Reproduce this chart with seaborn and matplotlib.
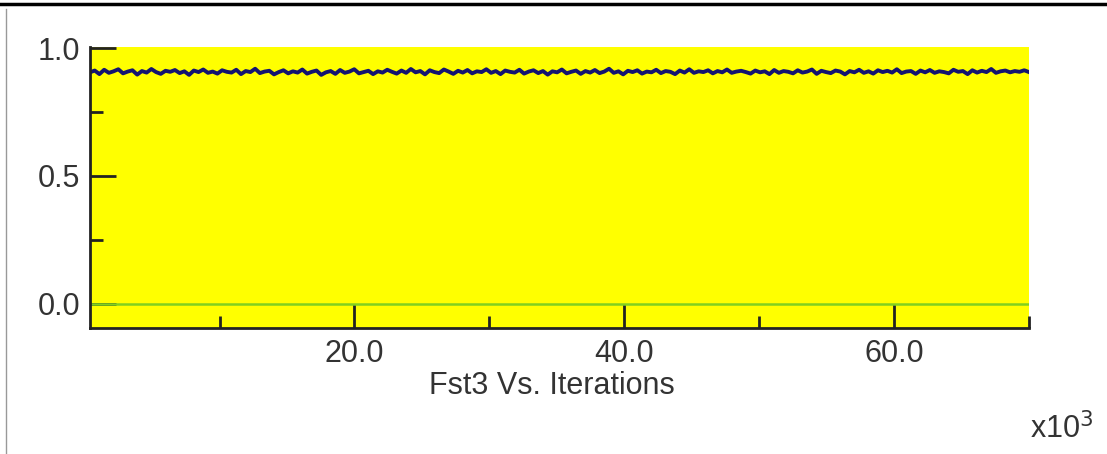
import numpy as np
import seaborn as sns
import matplotlib.pyplot as plt
from matplotlib.lines import Line2D
from matplotlib.ticker import MultipleLocator

# Fst3 trace, iterations in thousands
fst3 = [0.905, 0.912, 0.898, 0.915, 0.903, 0.909, 0.917, 0.901, 0.908, 0.913,
        0.896, 0.910, 0.904, 0.918, 0.906, 0.899, 0.911, 0.907, 0.914, 0.902,
        0.909, 0.895, 0.912, 0.906, 0.916, 0.903, 0.908, 0.900, 0.913, 0.907,
        0.904, 0.915, 0.898, 0.910, 0.906, 0.919, 0.902, 0.908, 0.911, 0.897,
        0.906, 0.913, 0.901, 0.909, 0.904, 0.916, 0.900, 0.907, 0.912, 0.895,
        0.905, 0.910, 0.899, 0.914, 0.903, 0.908, 0.917, 0.901, 0.906, 0.911,
        0.898, 0.909, 0.904, 0.915, 0.907, 0.900, 0.912, 0.903, 0.918, 0.905,
        0.910, 0.897, 0.913, 0.906, 0.902, 0.916, 0.908, 0.899, 0.911, 0.904,
        0.914, 0.901, 0.909, 0.906, 0.917, 0.903, 0.910, 0.898, 0.912, 0.907,
        0.904, 0.915, 0.900, 0.908, 0.913, 0.902, 0.910, 0.896, 0.909, 0.905,
        0.916, 0.901, 0.907, 0.912, 0.899, 0.910, 0.904, 0.914, 0.902, 0.908,
        0.919, 0.903, 0.909, 0.897, 0.911, 0.906, 0.913, 0.900, 0.908, 0.905,
        0.915, 0.902, 0.910, 0.907, 0.898, 0.912, 0.904, 0.917, 0.903, 0.909,
        0.906, 0.913, 0.901, 0.910, 0.905, 0.916, 0.903, 0.908, 0.911, 0.906,
        0.900, 0.912, 0.905, 0.909, 0.898, 0.914, 0.903, 0.910, 0.907, 0.901,
        0.913, 0.904, 0.908, 0.916, 0.899, 0.911, 0.906, 0.902, 0.912, 0.908,
        0.897, 0.910, 0.905, 0.915, 0.903, 0.909, 0.900, 0.913, 0.906, 0.911,
        0.904, 0.917, 0.902, 0.908, 0.910, 0.899, 0.912, 0.905, 0.914, 0.903,
        0.909, 0.906, 0.901, 0.915, 0.907, 0.910, 0.898, 0.913, 0.904, 0.911,
        0.906, 0.918, 0.903, 0.909, 0.912, 0.905, 0.910, 0.907, 0.913, 0.906]
iters = np.linspace(0.4, 70, len(fst3))
baseline_x = [0.4, 70]
baseline_y = [0.0, 0.0]

title = 'Fst3 Vs. Iterations'
scale_note = 'x10$^3$'

plt.rcParams['font.family'] = ['Liberation Sans', 'DejaVu Sans']
fig = plt.figure(figsize=(11.07, 4.54), dpi=100)
ax = fig.add_axes([0.0813, 0.2775, 0.8482, 0.619])
ax.set_facecolor('#ffff00')

sns.lineplot(x=baseline_x, y=baseline_y, color='#80d020', lw=1.8, ax=ax)
sns.lineplot(x=iters, y=fst3, color='#141470', lw=2.8, ax=ax)

ax.set_xlim(0.4, 70)
ax.set_ylim(-0.094, 1.004)
ax.xaxis.set_major_locator(MultipleLocator(20))
ax.xaxis.set_minor_locator(MultipleLocator(10))
ax.yaxis.set_major_locator(MultipleLocator(0.5))
ax.yaxis.set_minor_locator(MultipleLocator(0.25))
ax.xaxis.set_major_formatter(lambda v, p: '%.1f' % v if v > 1 else '')
ax.yaxis.set_major_formatter(lambda v, p: '%.1f' % v)

for s in ['top', 'right']:
    ax.spines[s].set_visible(False)
for s in ['left', 'bottom']:
    ax.spines[s].set_linewidth(2)
    ax.spines[s].set_color('#222222')

ax.tick_params(axis='both', which='both', direction='in', width=2,
               color='#222222', labelsize=22, labelcolor='#333333')
ax.tick_params(axis='x', which='major', length=17, pad=8)
ax.tick_params(axis='x', which='minor', length=9)
ax.tick_params(axis='y', which='major', length=19, pad=7)
ax.tick_params(axis='y', which='minor', length=9)

fig.text(0.4986, 0.15, title, ha='center', va='center', fontsize=22, color='#333333')
fig.text(0.93, 0.055, scale_note, ha='left', va='center', fontsize=22, color='#333333')

# frame remnants from the screenshot
fig.add_artist(Line2D([0, 1], [0.991, 0.991], color='black', lw=2.5))
fig.add_artist(Line2D([0.0055, 0.0055], [0, 0.98], color='#999999', lw=1))

fig.savefig('out.png', dpi=100)
